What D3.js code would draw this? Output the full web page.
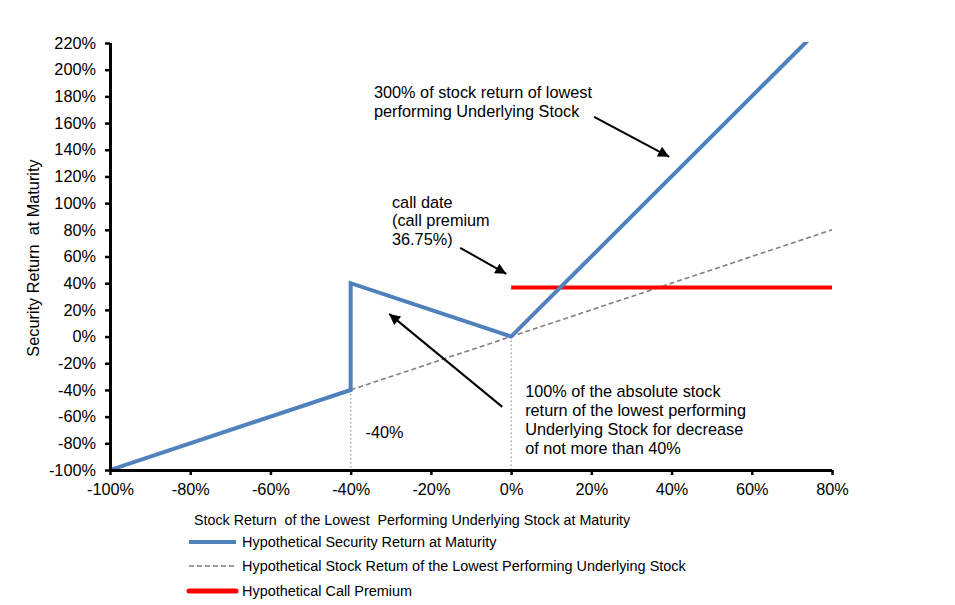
<!DOCTYPE html>
<html>
<head>
<meta charset="utf-8">
<script src="https://cdn.jsdelivr.net/npm/d3@7"></script>
<style>
  body { margin: 0; background: #fff; }
  text { font-family: "Liberation Sans", Arial, sans-serif; fill: #000; }
</style>
</head>
<body>
<svg id="chart" width="955" height="605"></svg>
<script>
// ---- data ----
const xTicks = [-100, -80, -60, -40, -20, 0, 20, 40, 60, 80];
const yTicks = [-100, -80, -60, -40, -20, 0, 20, 40, 60, 80, 100, 120, 140, 160, 180, 200, 220];
// Hypothetical Security Return at Maturity (blue)
const securityX = [-100, -40, -40, 0, 80];
const securityY = [-100, -40, 40, 0, 240];
// Hypothetical Stock Return of the Lowest Performing Underlying Stock (dashed)
const stockX = [-40, 80];
const stockY = [-40, 80];
// Hypothetical Call Premium (red)
const premiumX = [0, 80];
const premiumY = [36.75, 36.75];
// vertical reference lines (x, top y)
const refX = [-40, 0];
const refTopY = [-40, 0];

const seriesNames = [
  "Hypothetical Security Return at Maturity",
  "Hypothetical Stock Retum of the Lowest Performing Underlying Stock",
  "Hypothetical Call Premium"
];
const xTitle = "Stock Return  of the Lowest  Performing Underlying Stock at Maturity";
const yTitle = "Security Return  at Maturity";

const svg = d3.select("#chart");
const L = 110, R = 832, T = 43, B = 470;
const x = d3.scaleLinear().domain([-100, 80]).range([L, R]);
const y = d3.scaleLinear().domain([-100, 220]).range([B, T]);
const pct = d => d + "%";
const bigFont = 16.3, smallFont = 14.45;

svg.append("defs").append("clipPath").attr("id", "clip")
  .append("rect").attr("x", L).attr("y", T - 1).attr("width", R - L + 2).attr("height", B - T + 1);

svg.select("defs").append("marker")
  .attr("id", "arrow").attr("viewBox", "0 0 10 10")
  .attr("refX", 10).attr("refY", 5)
  .attr("markerWidth", 6.5).attr("markerHeight", 5.5)
  .attr("markerUnits", "strokeWidth")
  .attr("orient", "auto")
  .append("path").attr("d", "M0,0 L10,5 L0,10 Z").attr("fill", "#000");

const line = d3.line().x(d => x(d[0])).y(d => y(d[1]));
const zip = (a, b) => a.map((v, i) => [v, b[i]]);

const plot = svg.append("g").attr("clip-path", "url(#clip)");

// vertical dotted reference lines
refX.forEach((rx, i) => {
  plot.append("line")
    .attr("x1", x(rx)).attr("x2", x(rx))
    .attr("y1", y(refTopY[i])).attr("y2", y(-100))
    .attr("stroke", "#9a9a9a").attr("stroke-width", 1.3)
    .attr("stroke-dasharray", "1.5,2.5");
});

// dashed stock line
plot.append("path").datum(zip(stockX, stockY))
  .attr("d", line).attr("fill", "none")
  .attr("stroke", "#808080").attr("stroke-width", 1.6)
  .attr("stroke-dasharray", "5,3");

// red call premium
plot.append("path").datum(zip(premiumX, premiumY))
  .attr("d", line).attr("fill", "none")
  .attr("stroke", "#ff0000").attr("stroke-width", 4);

// blue security line
plot.append("path").datum(zip(securityX, securityY))
  .attr("d", line).attr("fill", "none")
  .attr("stroke", "#4f81bd").attr("stroke-width", 4)
  .attr("stroke-linejoin", "miter");

// axes
const yAxis = svg.append("g").attr("transform", `translate(${L},0)`)
  .call(d3.axisLeft(y).tickValues(yTicks).tickFormat(pct).tickSize(5).tickPadding(9));
const xAxis = svg.append("g").attr("transform", `translate(0,${B})`)
  .call(d3.axisBottom(x).tickValues(xTicks).tickFormat(pct).tickSize(5).tickPadding(8));
[xAxis, yAxis].forEach(g => {
  g.select(".domain").attr("stroke", "#000").attr("stroke-width", 3);
  g.selectAll(".tick line").attr("stroke", "#000").attr("stroke-width", 2.5);
  g.selectAll(".tick text").attr("font-size", bigFont).attr("fill", "#000")
    .attr("font-family", "Liberation Sans, Arial, sans-serif");
});
yAxis.select(".domain").attr("d", `M0.5,${T}V${B}`);
xAxis.select(".domain").attr("d", `M${L},0.5H${R}`);

// axis titles
svg.append("text")
  .attr("transform", `translate(39,258) rotate(-90)`)
  .attr("text-anchor", "middle").attr("font-size", bigFont)
  .style("white-space", "pre").text(yTitle);
svg.append("text").attr("x", 194).attr("y", 525)
  .attr("font-size", 14.3).style("white-space", "pre").text(xTitle);

// legend
const legY = [542, 566, 591];
const legStyles = [
  { stroke: "#4f81bd", w: 4, dash: null },
  { stroke: "#808080", w: 1.6, dash: "5,3" },
  { stroke: "#ff0000", w: 5, dash: null }
];
seriesNames.forEach((n, i) => {
  const s = legStyles[i];
  svg.append("line").attr("x1", 189).attr("x2", 236)
    .attr("y1", legY[i]).attr("y2", legY[i])
    .attr("stroke", s.stroke).attr("stroke-width", s.w)
    .attr("stroke-dasharray", s.dash)
    .attr("stroke-linecap", i === 2 ? "round" : "butt");
  svg.append("text").attr("x", 242).attr("y", legY[i] + 5)
    .attr("font-size", smallFont).text(n);
});

// annotations (positions in data units)
const annotations = [
  { lines: ["300% of stock return of lowest", "performing Underlying Stock"], x: -34.2, y: 179, dy: 19 },
  { lines: ["call date", "(call premium", "36.75%)"], x: -29.7, y: 96.5, dy: 18.5 },
  { lines: ["-40%"], x: -36.3, y: -76, dy: 19 },
  { lines: ["100% of the absolute stock", "return of the lowest performing", "Underlying Stock for decrease", "of not more than 40%"], x: 3.5, y: -45, dy: 19 }
];
annotations.forEach(a => {
  const t = svg.append("text").attr("x", x(a.x)).attr("y", y(a.y)).attr("font-size", bigFont);
  a.lines.forEach((l, i) => {
    t.append("tspan").attr("x", x(a.x)).attr("dy", i === 0 ? 0 : a.dy).text(l);
  });
});

// arrows: [x1, y1] -> [x2, y2] (tip) in data units
const arrowsFrom = [[20.7, 164.7], [-12.7, 66.5], [-2.2, -52.7]];
const arrowsTo = [[39.4, 134.7], [-1.2, 47], [-30.4, 17]];
arrowsFrom.forEach((f, i) => {
  svg.append("line")
    .attr("x1", x(f[0])).attr("y1", y(f[1]))
    .attr("x2", x(arrowsTo[i][0])).attr("y2", y(arrowsTo[i][1]))
    .attr("stroke", "#000").attr("stroke-width", 2)
    .attr("marker-end", "url(#arrow)");
});
</script>
</body>
</html>
